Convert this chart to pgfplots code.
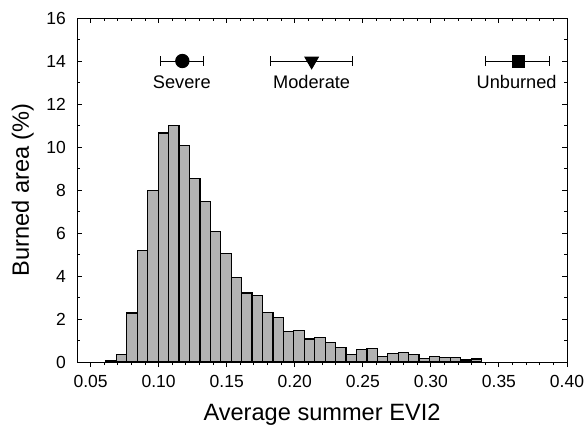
\documentclass[border=0pt]{standalone}
\usepackage{fontspec}
\setmainfont{Liberation Sans}
\usepackage{pgfplots}
\pgfplotsset{compat=1.18}
\definecolor{barfill}{RGB}{178,178,178}
\begin{document}
\begin{tikzpicture}
\useasboundingbox (-38.5pt,-31.5pt) rectangle (255pt,181pt);
\pgfplotsset{
  common/.style={
    scale only axis, width=245pt, height=172pt,
    xmin=0.04, xmax=0.40, ymin=0, ymax=16,
    xtick={0.05,0.10,...,0.40}, minor x tick num=4,
    axis line style={line width=0.5pt, black},
    major tick length=2.5pt, minor tick length=1.5pt,
    every tick/.style={black, line width=0.5pt},
    /pgf/number format/assume math mode=true,
  }
}
% bottom outward ticks
\begin{axis}[common,
  tick align=outside, xtick pos=left, xticklabels={}, ytick=\empty,
  minor y tick num=0]
\end{axis}
\begin{axis}[common,
  tick align=inside,
  xtick pos=right, xticklabel pos=left,
  ytick pos=both, yticklabel pos=left,
  ytick={0,2,...,16}, minor y tick num=1,
  xticklabel style={/pgf/number format/fixed, /pgf/number format/fixed zerofill, /pgf/number format/precision=2, font=\fontsize{8.75}{10}\selectfont, anchor=base, yshift=-12.6pt},
  yticklabel style={font=\fontsize{8.75}{10}\selectfont, xshift=-2pt},
  xlabel={Average summer EVI2},
  ylabel={Burned area (\%)},
  xlabel style={at={(axis description cs:0.5,-0.1686)}, anchor=base, font=\fontsize{11.8}{14}\selectfont},
  ylabel style={at={(axis description cs:-0.098,0.5)}, anchor=base, font=\fontsize{11.8}{14}\selectfont},
]
\addplot[ybar interval, fill=barfill, draw=black, line width=0.6pt] coordinates {
(0.0613,0.06) (0.0690,0.36) (0.0766,2.28) (0.0843,5.18) (0.0920,7.97)
(0.0996,10.65) (0.1073,11.00) (0.1150,10.06) (0.1226,8.54) (0.1303,7.47)
(0.1380,6.08) (0.1456,5.04) (0.1533,3.92) (0.1610,3.21) (0.1686,3.10)
(0.1763,2.29) (0.1840,2.08) (0.1916,1.43) (0.1993,1.47) (0.2070,1.07)
(0.2146,1.13) (0.2223,0.90) (0.2300,0.67) (0.2376,0.34) (0.2453,0.59)
(0.2530,0.62) (0.2606,0.25) (0.2683,0.39) (0.2760,0.43) (0.2836,0.36)
(0.2913,0.17) (0.2990,0.26) (0.3066,0.20) (0.3143,0.20) (0.3220,0.09)
(0.3296,0.14) (0.3373,0.14)
};
\addplot[black, line width=0.5pt, mark=*, mark size=3.33pt, mark options={solid, fill=black},
  error bars/.cd, x dir=both, x explicit, error mark=|, error mark options={mark size=2.5pt, line width=0.5pt, black},
  error bar style={line width=0.5pt, black}]
  coordinates {(0.1174,14) += (0.0159,0) -= (0.0164,0)};
\addplot[black, line width=0.5pt, mark=triangle*, mark size=3.85pt, mark options={solid, fill=black, rotate=180},
  error bars/.cd, x dir=both, x explicit, error mark=|, error mark options={mark size=2.5pt, line width=0.5pt, black},
  error bar style={line width=0.5pt, black}]
  coordinates {(0.2124,14) += (0.0302,0) -= (0.0299,0)};
\addplot[black, line width=0.5pt, mark=square*, mark size=3pt, mark options={solid, fill=black},
  error bars/.cd, x dir=both, x explicit, error mark=|, error mark options={mark size=2.5pt, line width=0.5pt, black},
  error bar style={line width=0.5pt, black}]
  coordinates {(0.3642,14) += (0.0233,0) -= (0.0244,0)};
\node[anchor=base, font=\fontsize{9.1}{11}\selectfont, yshift=-13.5pt] at (axis cs:0.1170,14) {Severe};
\node[anchor=base, font=\fontsize{9.1}{11}\selectfont, yshift=-13.5pt] at (axis cs:0.2124,14) {Moderate};
\node[anchor=base, font=\fontsize{9.1}{11}\selectfont, yshift=-13.5pt] at (axis cs:0.3630,14) {Unburned};
\end{axis}
\end{tikzpicture}
\end{document}
